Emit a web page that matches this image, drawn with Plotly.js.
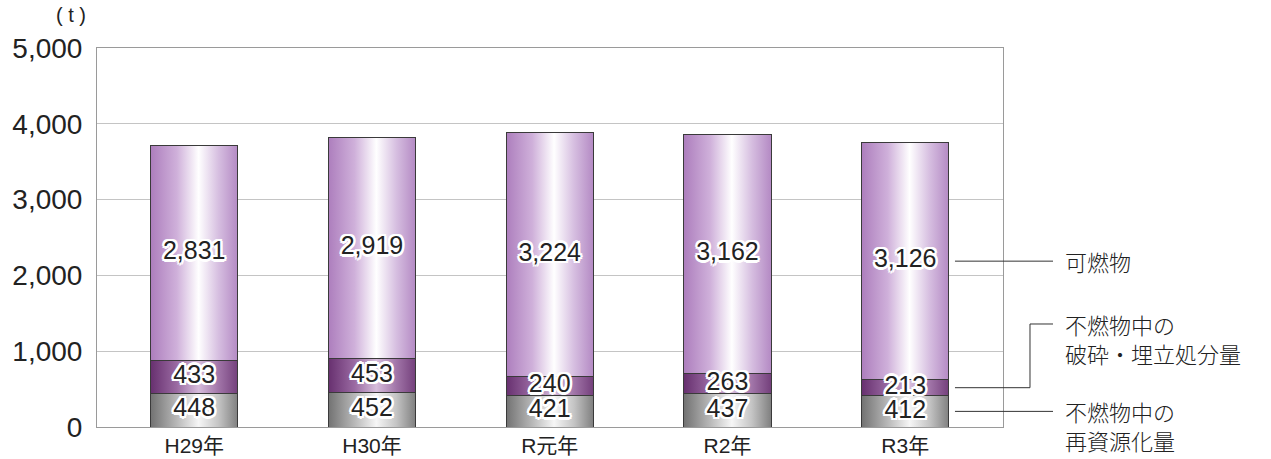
<!DOCTYPE html>
<html>
<head>
<meta charset="utf-8">
<script src="https://cdn.plot.ly/plotly-3.0.1.min.js"></script>
<style>
html,body{margin:0;padding:0;background:#fff;}
#chart{width:1271px;height:459px;}
</style>
</head>
<body>
<div id="chart"></div>
<script>
const categories = ['H29年', 'H30年', 'R元年', 'R2年', 'R3年'];
const recycled = [448, 452, 421, 437, 412];        // 不燃物中の再資源化量
const landfill = [433, 453, 240, 263, 213];        // 不燃物中の破砕・埋立処分量
const combustible = [2831, 2919, 3224, 3162, 3126]; // 可燃物
const recycledLabel = ['不燃物中の', '再資源化量'];
const landfillLabel = ['不燃物中の', '破砕・埋立処分量'];
const combustibleLabel = ['可燃物'];
const yTicks = [0, 1000, 2000, 3000, 4000, 5000];
const yUnit = '( t )';
const yMax = 5000;

const FONT = '"Liberation Sans", "Noto Sans CJK JP", sans-serif';
const halo = '-2px -2px 0 #fff, 2px -2px 0 #fff, -2px 2px 0 #fff, 2px 2px 0 #fff, 0 2.5px 0 #fff, 2.5px 0 0 #fff, 0 -2.5px 0 #fff, -2.5px 0 0 #fff, 0 0 2px #fff';

const series = [recycled, landfill, combustible];
const seriesNames = [recycledLabel.join(''), landfillLabel.join(''), combustibleLabel.join('')];
const baseColors = ['#9a9a9a', '#8a5490', '#c09ccc'];
const barWidth = 0.49;

const traces = [];
series.forEach((vals, i) => {
  traces.push({
    type: 'bar', x: categories, y: vals, name: seriesNames[i],
    width: barWidth,
    marker: {color: baseColors[i], line: {color: '#3a3a3a', width: 1}},
    hoverinfo: 'skip', showlegend: false
  });
});
// value labels at segment midpoints (computed from data)
const cum = categories.map(() => 0);
series.forEach((vals) => {
  const mids = vals.map((v, j) => cum[j] + v / 2);
  vals.forEach((v, j) => { cum[j] += v; });
  traces.push({
    type: 'scatter', mode: 'text', x: categories, y: mids,
    text: vals.map(v => v.toLocaleString('en-US')),
    textposition: 'middle center',
    textfont: {family: FONT, size: 25, color: '#222', shadow: halo},
    hoverinfo: 'skip', showlegend: false, cliponaxis: false
  });
});

// leader lines at the midpoints of the last bar's segments
const last = categories.length - 1;
const midRec = recycled[last] / 2 / yMax;
const midLand = (recycled[last] + landfill[last] / 2) / yMax;
const midComb = (recycled[last] + landfill[last] + combustible[last] / 2) / yMax;

const lx0 = 0.947, lxBend = 1.0298, lx1 = 1.0552, tx = 1.066;
const lineStyle = {color: '#333', width: 1};
const yLand2 = 0.2718;
const lineGap = 0.0765;
const shapes = [
  {type: 'line', xref: 'paper', yref: 'paper', x0: lx0, x1: lx1, y0: midComb, y1: midComb, line: lineStyle},
  {type: 'path', xref: 'paper', yref: 'paper',
   path: `M${lx0},${midLand} L${lxBend},${midLand} L${lxBend},${yLand2} L${lx1},${yLand2}`, line: lineStyle},
  {type: 'line', xref: 'paper', yref: 'paper', x0: lx0, x1: lx1, y0: midRec, y1: midRec, line: lineStyle}
];

const labelFont = {family: '"Noto Sans CJK JP", sans-serif', size: 22, color: '#222', weight: 300};
const annotations = [];
function addLabel(lines, yTop) {
  lines.forEach((t, k) => {
    annotations.push({xref: 'paper', yref: 'paper', x: tx, y: yTop - k * lineGap,
      xanchor: 'left', yanchor: 'middle', align: 'left', text: t, showarrow: false, font: labelFont});
  });
}
addLabel(combustibleLabel, midComb);
addLabel(landfillLabel, yLand2);
addLabel(recycledLabel, midRec);
annotations.push({xref: 'paper', yref: 'paper', x: -0.01, y: 1.087, xanchor: 'right', yanchor: 'middle',
  text: yUnit, showarrow: false, font: {family: FONT, size: 20, color: '#222'}});

const layout = {
  width: 1271, height: 459,
  margin: {l: 97, r: 268, t: 48, b: 32},
  paper_bgcolor: '#fff', plot_bgcolor: '#fff',
  barmode: 'stack',
  font: {family: FONT, color: '#222'},
  xaxis: {
    type: 'category', range: [-0.547, 4.55],
    showline: true, mirror: true, linecolor: '#9a9a9a', linewidth: 1,
    showgrid: false, ticks: '', ticklabelstandoff: 0,
    tickfont: {family: FONT, size: 21, color: '#222'},
    fixedrange: true
  },
  yaxis: {
    range: [0, yMax], tickvals: yTicks, tickformat: ',',
    showline: true, mirror: true, linecolor: '#9a9a9a', linewidth: 1,
    gridcolor: '#c4c4c4', gridwidth: 1, zeroline: false,
    ticks: '', ticklabelstandoff: 8,
    tickfont: {family: FONT, size: 28, color: '#222'},
    fixedrange: true
  },
  shapes: shapes,
  annotations: annotations
};

Plotly.newPlot('chart', traces, layout, {displayModeBar: false, staticPlot: true}).then(gd => {
  // horizontal gradients for the bar fills
  const svgNS = 'http://www.w3.org/2000/svg';
  const defs = gd.querySelector('svg.main-svg defs');
  const grads = {
    gRec: [['0', '#727272'], ['0.3', '#b8b8b8'], ['0.55', '#f6f6f6'], ['0.78', '#c4c4c4'], ['1', '#808080']],
    gLand: [['0', '#67306f'], ['0.3', '#9a6aa2'], ['0.55', '#d6bcdb'], ['0.78', '#a175a8'], ['1', '#74407c']],
    gComb: [['0', '#ad7ebd'], ['0.3', '#cfb0da'], ['0.55', '#ffffff'], ['0.78', '#d6bee0'], ['1', '#b48ac4']]
  };
  Object.keys(grads).forEach(id => {
    const lg = document.createElementNS(svgNS, 'linearGradient');
    lg.setAttribute('id', id);
    lg.setAttribute('x1', '0'); lg.setAttribute('x2', '1');
    lg.setAttribute('y1', '0'); lg.setAttribute('y2', '0');
    grads[id].forEach(([o, c]) => {
      const s = document.createElementNS(svgNS, 'stop');
      s.setAttribute('offset', o); s.setAttribute('stop-color', c);
      lg.appendChild(s);
    });
    defs.appendChild(lg);
  });
  const ids = ['gRec', 'gLand', 'gComb'];
  gd.querySelectorAll('.barlayer .trace').forEach((tr, i) => {
    tr.querySelectorAll('path').forEach(p => { p.style.fill = `url(#${ids[i]})`; });
  });
});
</script>
</body>
</html>
